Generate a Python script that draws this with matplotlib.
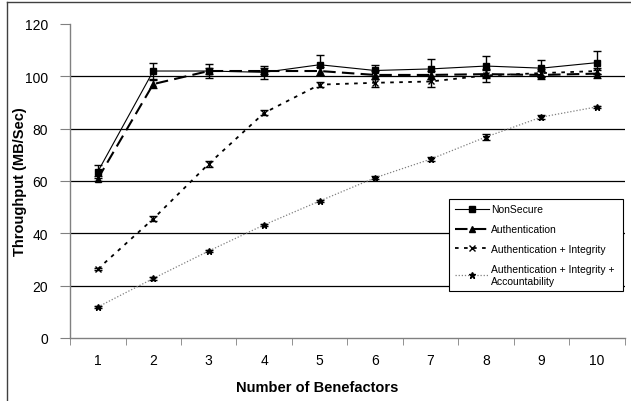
import matplotlib
matplotlib.use('Agg')
import matplotlib.pyplot as plt
from matplotlib.lines import Line2D

plt.rcParams['font.family'] = ['Liberation Sans', 'DejaVu Sans']

benefactors = [1, 2, 3, 4, 5, 6, 7, 8, 9, 10]

nonsecure = [63.5, 102, 102, 101.5, 104.4, 102.2, 102.8, 103.9, 103.1, 105.2]
nonsecure_err = [2.5, 3, 2.5, 2.5, 3.8, 2, 3.8, 4, 3.2, 4.3]

auth = [60.8, 97, 102, 102, 102, 100.5, 100.5, 100.8, 100.5, 101]
auth_err = [1, 1.5, 1, 1, 1.5, 1.5, 1.5, 1.5, 1.5, 1.5]

auth_int = [26.3, 45.5, 66.5, 86, 96.8, 97.5, 98, 100.3, 101.2, 102]
auth_int_err = [0.5, 1, 1, 1, 1, 1.5, 2, 2.5, 1.5, 1]

auth_int_acc = [11.8, 22.7, 33.2, 43.2, 52.3, 61.2, 68.3, 76.8, 84.4, 88.3]
auth_int_acc_err = [0.5, 0.5, 0.5, 0.5, 0.5, 0.5, 0.8, 1, 0.8, 0.5]

labels = ['NonSecure', 'Authentication', 'Authentication + Integrity',
          'Authentication + Integrity +\nAccountability']
y_ticks = [0, 20, 40, 60, 80, 100, 120]

fig = plt.figure(figsize=(6.31, 4.02), dpi=100)
ax = fig.add_axes([0.111, 0.157, 0.879, 0.781])

for yv in y_ticks[1:-1]:
    ax.axhline(yv, color='black', lw=0.9, zorder=0)

styles = [
    dict(color='black', lw=0.8, ls='-', marker='s', ms=4),
    dict(color='black', lw=1.5, ls=(0, (6, 3)), marker='^', ms=5),
    dict(color='black', lw=1.3, ls=(0, (2, 3)), marker='x', ms=4, mew=1),
    dict(color='#808080', lw=0.9, ls=(0, (1, 1.5)), marker='*', ms=5, mfc='black', mec='black'),
]
series = [(nonsecure, nonsecure_err), (auth, auth_err),
          (auth_int, auth_int_err), (auth_int_acc, auth_int_acc_err)]

handles = []
for i, ((vals, errs), st) in enumerate(zip(series, styles)):
    ax.errorbar(benefactors, vals, yerr=errs, ecolor='black', elinewidth=1,
                capsize=3, capthick=1, zorder=5 - i, **st)
    handles.append(Line2D([], [], **st))

ax.set_xlim(0.5, 10.5)
ax.set_ylim(0, 120)
ax.set_yticks(y_ticks)
ax.set_xticks(benefactors)
ax.set_xticks([b + 0.5 for b in [0] + benefactors], minor=True)
ax.tick_params(axis='x', which='major', length=0, pad=11, labelsize=10)
ax.tick_params(axis='x', which='minor', length=5, direction='out', color='#808080')
ax.tick_params(axis='y', length=7, direction='out', color='#808080', pad=9, labelsize=10)

for s in ['top', 'right']:
    ax.spines[s].set_visible(False)
for s in ['left', 'bottom']:
    ax.spines[s].set_color('#808080')
    ax.spines[s].set_linewidth(1)

ax.set_xlabel('Number of Benefactors', fontsize=10.5, fontweight='bold')
ax.set_ylabel('Throughput (MB/Sec)', fontsize=10.5, fontweight='bold')
ax.xaxis.set_label_coords(0.445, -0.135)
ax.yaxis.set_label_coords(-0.078, 0.5)

leg = ax.legend(handles, labels, loc='lower left', bbox_to_anchor=(0.684, 0.150, 0.313, 0.315),
                mode='expand', fontsize=7.5, frameon=True, fancybox=False, framealpha=1,
                edgecolor='black', handlelength=3.3, borderpad=0.5, labelspacing=0.95,
                handletextpad=0.2, borderaxespad=0)
leg.get_frame().set_linewidth(0.8)

# outer frame of the original figure (cropped on right/bottom)
fig.add_artist(Line2D([0.011, 0.011], [0, 0.993], transform=fig.transFigure, color='#404040', lw=1))
fig.add_artist(Line2D([0.011, 1], [0.993, 0.993], transform=fig.transFigure, color='#404040', lw=1))

fig.savefig('out.png', dpi=100)
